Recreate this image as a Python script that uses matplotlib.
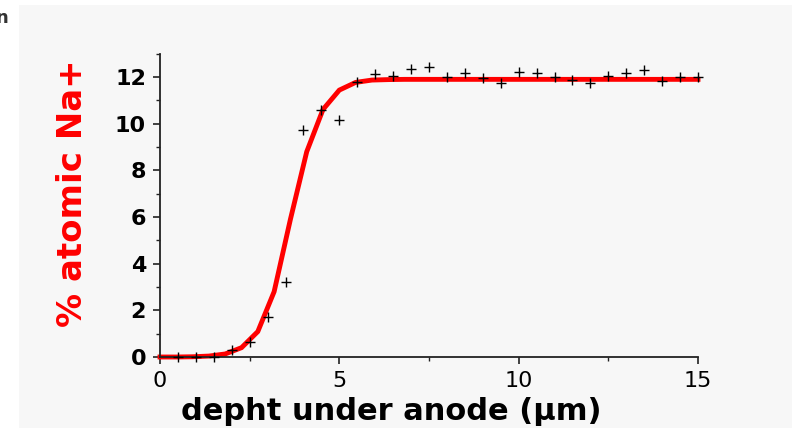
import matplotlib.pyplot as plt
from matplotlib.patches import Rectangle
from matplotlib.ticker import MultipleLocator

# Mesures : profondeur (um) et % atomique de Na+
prof_mes = [0.5, 1.0, 1.5, 2.0, 2.5, 3.0, 3.5, 4.0, 4.5, 5.0, 5.5, 6.0, 6.5, 7.0, 7.5,
            8.0, 8.5, 9.0, 9.5, 10.0, 10.5, 11.0, 11.5, 12.0, 12.5, 13.0, 13.5,
            14.0, 14.5, 15.0]
na_mes = [0.0, 0.0, 0.0, 0.3, 0.66, 1.7, 3.2, 9.73, 10.6, 10.16, 11.77, 12.13, 12.06,
          12.34, 12.43, 12.01, 12.16, 11.94, 11.73, 12.23, 12.19, 11.99, 11.87, 11.73,
          12.06, 12.19, 12.29, 11.83, 11.99, 12.01]

# Courbe d'ajustement
prof_fit = [0.0, 0.455, 0.909, 1.364, 1.818, 2.273, 2.727, 3.182, 3.636, 4.091, 4.545,
            5.0, 5.455, 5.909, 6.364, 6.818, 8.0, 10.0, 12.0, 15.0]
na_fit = [0.0, 0.0, 0.01, 0.04, 0.13, 0.40, 1.09, 2.80, 5.9, 8.80, 10.61,
          11.44, 11.77, 11.87, 11.89, 11.9, 11.9, 11.9, 11.9, 11.9]

fig = plt.figure(figsize=(7.92, 4.30), dpi=100)
fig.patch.set_facecolor('white')

# fond gris clair
fig.patches.append(Rectangle((19 / 792, 2 / 430), 773 / 792, 423 / 430,
                             transform=fig.transFigure, facecolor='#f7f7f7',
                             edgecolor='none', zorder=-10))
fig.text(-0.006, 0.978, 'n', fontsize=13, fontweight='bold', color='#333333',
         family='DejaVu Sans', va='top', ha='left')

ax = fig.add_axes([160 / 792, 1 - 357 / 430, 538 / 792, 303.3 / 430])
ax.set_facecolor('none')
ax.set_zorder(5)

ax.plot(prof_fit, na_fit, color='#ff0000', linewidth=3.5, zorder=2,
        solid_joinstyle='miter', clip_on=False)
ax.plot(prof_mes, na_mes, linestyle='none', marker='+', color='black',
        markersize=6.5, markeredgewidth=1.0, zorder=3, clip_on=False)

ax.set_xlim(0, 15)
ax.set_ylim(0, 13)

for s in ['top', 'right']:
    ax.spines[s].set_visible(False)
for s in ['left', 'bottom']:
    ax.spines[s].set_linewidth(1.3)
    ax.spines[s].set_color('#222222')

ax.xaxis.set_major_locator(MultipleLocator(5))
ax.xaxis.set_minor_locator(MultipleLocator(2.5))
ax.yaxis.set_major_locator(MultipleLocator(2))
ax.yaxis.set_minor_locator(MultipleLocator(1))
ax.tick_params(which='major', direction='out', length=5, width=1.2, color='#222222')
ax.tick_params(which='minor', direction='out', length=3, width=1.0, color='#222222')

ax.set_yticks([0, 2, 4, 6, 8, 10, 12])
ax.set_yticklabels(['0', '2', '4', '6', '8', '10', '12'], fontsize=16,
                   fontweight='bold', family='DejaVu Sans')
ax.set_xticks([0, 5, 10, 15])
ax.set_xticklabels(['0', '5', '10', '15'], fontsize=16, family='DejaVu Sans')
ax.tick_params(axis='y', pad=5)
ax.tick_params(axis='x', pad=5)

ax.set_xlabel('depht under anode (µm)', fontsize=22, fontweight='bold',
              family='DejaVu Sans', va='center')
ax.xaxis.set_label_coords((391 - 160) / 538, (357 - 411.5) / 303.3)
ax.set_ylabel('% atomic Na+', fontsize=24.5, fontweight='bold', color='#ff0000',
              family='DejaVu Sans', va='center')
ax.yaxis.set_label_coords((72 - 160) / 538, (357 - 193.5) / 303.3)

plt.savefig('out.png', dpi=100)
